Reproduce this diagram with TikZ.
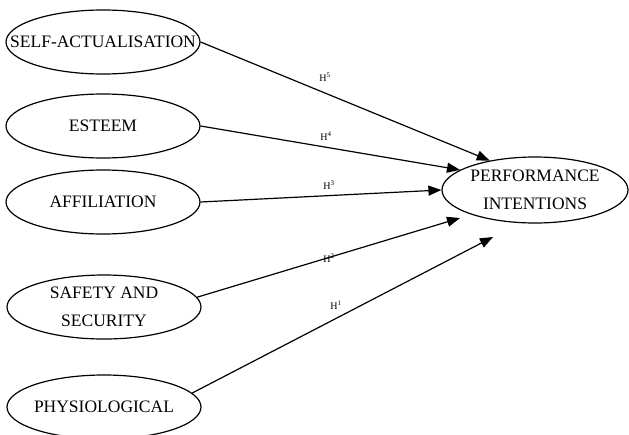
\documentclass[tikz,border=0pt]{standalone}
\usepackage{fontspec}
\setmainfont{Liberation Serif}
\usetikzlibrary{shapes.geometric,arrows.meta}

\tikzset{
    need/.style={ellipse, draw, line width=1.2pt, minimum width=194pt, minimum height=64pt,
        inner sep=0pt, align=center, font=\fontsize{17.5}{28}\selectfont},
    hyp/.style={-{Triangle[length=13pt,width=10pt]}, line width=1.2pt},
    hlabel/.style={inner sep=0pt, font=\fontsize{10}{12}\selectfont}
}

\begin{document}
\begin{tikzpicture}[x=1pt,y=-1pt]
    \useasboundingbox (0,0) rectangle (629,434);
    % needs
    \node[need] (selfact) at (103,42)  {\makebox[120pt][c]{SELF-ACTUALISATION}};
    \node[need] (esteem)  at (103,126) {ESTEEM};
    \node[need] (affil)   at (103,202) {AFFILIATION};
    \node[need] (safety)  at (104,307) {SAFETY AND\\SECURITY};
    \node[need] (physio)  at (104,407) {\makebox[120pt][c]{PHYSIOLOGICAL}};
    % outcome
    \node[need, minimum width=186pt, minimum height=66pt] (perf) at (535,190)
        {\makebox[110pt][c]{PERFORMANCE}\\INTENTIONS};
    \coordinate (safetyend) at (460,218);
    \coordinate (physioend) at (493,237);
    % hypotheses
    \draw[hyp] (selfact.east) -- (perf.147);
    \draw[hyp] (esteem.east)  -- (perf.165);
    \draw[hyp] (affil.east)   -- (perf.west);
    \draw[hyp] (safety.6)     -- (safetyend);
    \draw[hyp] (physio.9)     -- (physioend);
    \node[hlabel] (h5) at (325,77)  {H\textsuperscript{5}};
    \node[hlabel] (h4) at (326,136) {H\textsuperscript{4}};
    \node[hlabel] (h3) at (329,185) {H\textsuperscript{3}};
    \node[hlabel] (h2) at (329,258) {H\textsuperscript{2}};
    \node[hlabel] (h1) at (336,305) {H\textsuperscript{1}};
\end{tikzpicture}
\end{document}
